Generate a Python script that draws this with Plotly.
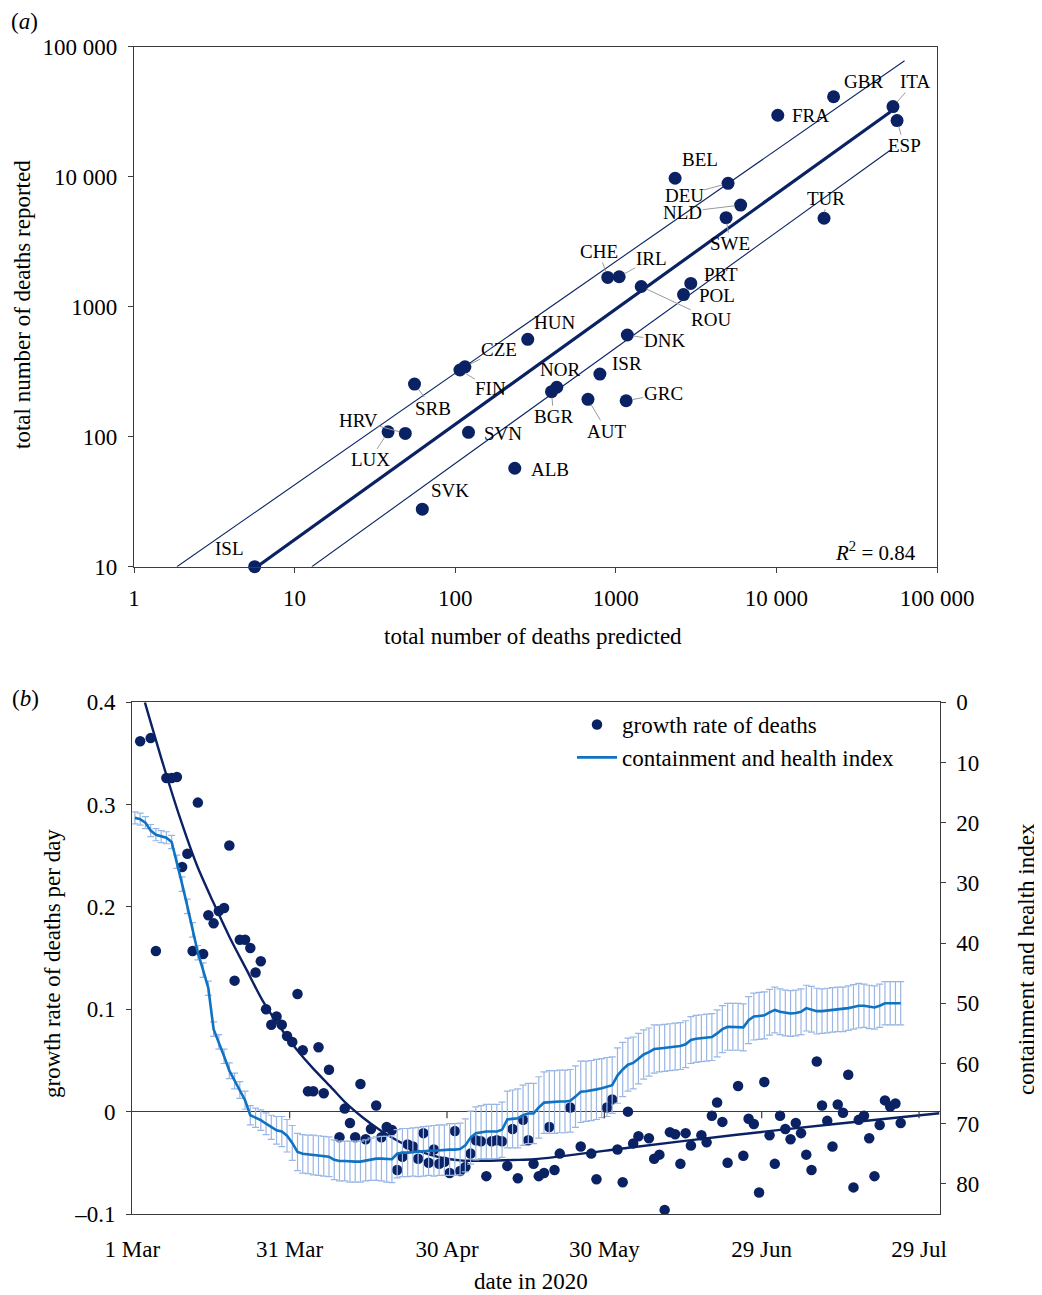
import math
import plotly.graph_objects as go
import pandas as pd

# ---------------- Panel (a) data ----------------
countries = ["GBR", "ITA", "ESP", "FRA", "BEL", "DEU", "NLD", "SWE", "TUR", "CHE",
             "IRL", "ROU", "PRT", "POL", "HUN", "DNK", "CZE", "FIN", "NOR", "BGR",
             "ISR", "SRB", "AUT", "GRC", "HRV", "LUX", "SVN", "ALB", "SVK", "ISL"]
predicted = [22700, 53200, 56400, 10200, 2340, 5000, 5990, 4860, 19800, 891,
             1050, 1440, 2930, 2640, 283, 1180, 115, 107, 429, 398,
             796, 55.8, 671, 1160, 48.9, 38.2, 121, 235, 62.4, 5.64]
reported = [41200, 34600, 27000, 29700, 9730, 8890, 6050, 4840, 4790, 1680,
            1700, 1430, 1510, 1240, 561, 606, 345, 326, 240, 222,
            303, 254, 194, 189, 106, 109, 108, 57.2, 27.7, 10]

fit_x = [5.83, 51400]
fit_y = [10, 31600]
upper_x = [1.85, 62800]
upper_y = [10, 78000]
lower_x = [12.8, 51400]
lower_y = [10, 16030]

a_xticks = [1, 10, 100, 1000, 10000, 100000]
a_xtext = ["1", "10", "100", "1000", "10 000", "100 000"]
a_yticks = [10, 100, 1000, 10000, 100000]
a_ytext = ["10", "100", "1000", "10 000", "100 000"]

# ---------------- Panel (b) data ----------------
growth_day = [1, 3, 4, 6, 7, 8, 9, 10, 11, 12, 13, 14, 15, 16, 17, 18, 19, 20, 21, 22,
              23, 24, 25, 26, 27, 28, 29, 30, 31, 32, 33, 34, 35, 36, 37, 39, 40, 41, 42, 43,
              44, 45, 46, 47, 48, 49, 50, 51, 52, 53, 54, 55, 56, 57, 58, 59, 60, 61, 62, 63,
              64, 65, 66, 67, 68, 69, 70, 71, 72, 73, 74, 75, 76, 77, 78, 79, 80, 81, 83, 85,
              87, 88, 90, 91, 92, 93, 94, 95, 96, 98, 99, 100, 101, 102, 103, 104, 105, 106, 108, 109,
              110, 111, 112, 113, 115, 116, 117, 118, 119, 120, 121, 122, 123, 124, 125, 126, 127, 128, 129, 130,
              131, 132, 133, 134, 135, 136, 137, 138, 139, 140, 141, 142, 143, 144, 145, 146]
growth_rate = [0.362, 0.365, 0.157, 0.326, 0.326, 0.327, 0.239, 0.252, 0.157, 0.302,
               0.154, 0.192, 0.184, 0.196, 0.199, 0.260, 0.128, 0.168, 0.168, 0.160,
               0.136, 0.147, 0.100, 0.085, 0.093, 0.085, 0.074, 0.068, 0.115, 0.060,
               0.020, 0.020, 0.063, 0.018, 0.041, -0.025, 0.003, -0.011, -0.025, 0.027,
               -0.027, -0.017, 0.006, -0.025, -0.015, -0.018, -0.057, -0.044, -0.032, -0.034,
               -0.046, -0.021, -0.050, -0.037, -0.051, -0.049, -0.060, -0.019, -0.058, -0.054,
               -0.041, -0.028, -0.029, -0.063, -0.029, -0.028, -0.029, -0.053, -0.017, -0.065,
               -0.008, -0.028, -0.051, -0.063, -0.060, -0.015, -0.057, -0.041, 0.004, -0.034,
               -0.041, -0.066, 0.004, 0.012, -0.037, -0.069, 0.000, -0.031, -0.024, -0.026,
               -0.046, -0.042, -0.096, -0.020, -0.022, -0.051, -0.021, -0.033, -0.023, -0.030,
               -0.004, 0.009, -0.010, -0.050, 0.025, -0.043, -0.007, -0.012, -0.079, 0.029,
               -0.023, -0.051, -0.004, -0.017, -0.027, -0.011, -0.021, -0.042, -0.057, 0.049,
               0.006, -0.009, -0.034, 0.007, -0.001, 0.036, -0.074, -0.008, -0.004, -0.026,
               -0.063, -0.013, 0.011, 0.005, 0.008, -0.011]

curve_day = [1.9, 5.4, 8.6, 11.8, 14.9, 18.1, 21.3, 24.4, 27.6, 30.8, 34.0, 37.2, 40.3, 43.5,
             46.7, 49.9, 53.0, 56.2, 59.4, 62.5, 65.7, 68.9, 72.1, 76.2, 94.5, 114.3, 133.5, 153.4]
curve_rate = [0.400, 0.339, 0.287, 0.241, 0.205, 0.170, 0.1385, 0.108, 0.083, 0.061, 0.042, 0.025,
              0.008, -0.006, -0.018, -0.028, -0.036, -0.042, -0.046, -0.0478, -0.048, -0.0477,
              -0.0472, -0.0465, -0.035, -0.0228, -0.012, -0.0016]

cont_day = list(range(0, 147))
cont_index = [19.2, 19.4, 20.0, 21.3, 22.0, 22.3, 22.5, 23.2, 26.5, 30.2,
              33.9, 37.8, 41.6, 44.5, 47.5, 54.3, 56.4, 58.8, 61.2, 62.9,
              64.4, 66.1, 68.6, 69.0, 69.4, 70.0, 70.6, 71.1, 71.3, 72.0,
              73.2, 74.7, 75.0, 75.1, 75.2, 75.3, 75.4, 75.5, 76.0, 76.2,
              76.2, 76.3, 76.3, 76.3, 76.1, 75.9, 75.8, 75.8, 75.9, 75.9,
              75.0, 74.8, 74.8, 74.7, 74.7, 74.6, 74.5, 74.5, 74.4, 74.4,
              74.3, 74.3, 74.2, 73.6, 72.3, 71.6, 71.4, 71.3, 71.3, 71.3,
              71.0, 69.3, 69.2, 69.1, 68.6, 68.3, 68.3, 67.3, 66.5, 66.4,
              66.4, 66.3, 66.3, 66.2, 65.5, 64.7, 64.6, 64.5, 64.3, 64.1,
              63.9, 63.6, 62.0, 61.0, 60.2, 59.9, 59.2, 58.5, 58.1, 57.6,
              57.5, 57.4, 57.3, 57.2, 57.1, 56.8, 56.1, 55.9, 55.8, 55.7,
              55.6, 55.0, 54.3, 53.9, 53.9, 53.9, 54.0, 52.8, 52.2, 52.1,
              52.0, 51.5, 51.1, 51.4, 51.6, 51.7, 51.6, 51.4, 50.8, 51.0,
              51.3, 51.3, 51.2, 51.1, 51.0, 51.0, 50.8, 50.6, 50.4, 50.4,
              50.6, 50.7, 50.4, 50.0, 50.0, 50.0, 50.0]
cont_err = [1.0, 1.0, 1.0, 1.0, 1.0, 1.0, 1.0, 1.1,
            1.1, 1.2, 1.2, 1.2, 1.2, 1.2, 1.2, 1.2, 1.2, 1.2, 1.3, 1.3, 1.4,
            1.5, 1.6, 1.6, 1.7, 1.8, 2.0,
            2.3, 2.5, 2.7, 2.9,
            3.1, 3.2, 3.2, 3.3, 3.3, 3.3, 3.3, 3.3, 3.3, 3.3, 3.4, 3.4, 3.4, 3.4, 3.5,
            3.6, 3.7, 3.8, 3.9, 4.0, 4.0, 4.0, 4.0, 4.1, 4.1, 4.1, 4.2, 4.2, 4.2, 4.3,
            4.3, 4.3, 4.4, 4.4, 4.4, 4.4, 4.5, 4.5, 4.5, 4.6,
            4.7, 4.8, 4.9, 5.0, 5.0, 5.0, 5.1, 5.1, 5.2, 5.2, 5.2, 5.2, 5.2, 5.1, 5.1, 5.0, 5.0, 5.0, 4.9, 4.9,
            4.7, 4.6, 4.5, 4.4, 4.3, 4.2, 4.1, 4.0, 4.0, 3.9,
            3.9, 3.9, 3.9, 3.9, 3.9, 3.9, 3.9, 3.9, 3.9, 3.9,
            3.9, 3.9, 3.9, 3.9, 3.9, 3.9, 3.9, 3.9, 3.9, 3.9,
            3.8, 3.8, 3.8, 3.8, 3.8, 3.8, 3.8, 3.8, 3.8, 3.8,
            3.7, 3.7, 3.7, 3.7, 3.7, 3.7, 3.7, 3.7, 3.6, 3.6,
            3.6, 3.6, 3.6, 3.6, 3.6, 3.6]

b_tick_dates = ["2020-03-01", "2020-03-31", "2020-04-30", "2020-05-30", "2020-06-29", "2020-07-29"]
b_tick_text = ["1 Mar", "31 Mar", "30 Apr", "30 May", "29 Jun", "29 Jul"]
b_left_ticks = [-0.1, 0, 0.1, 0.2, 0.3, 0.4]
b_left_text = ["\u20130.1", "0", "0.1", "0.2", "0.3", "0.4"]
b_right_ticks = [0, 10, 20, 30, 40, 50, 60, 70, 80]

# ---------------- styling ----------------
FONT = "Liberation Serif, Times New Roman, serif"
NAVY = "#0a2263"
BLUE = "#0f72c2"
ERRBLUE = "#9ab6e4"
AXIS = "#3c3c3c"
OFF = 8                      # page body margin
W, H = 1042 - OFF, 1295 - OFF


def fx(px):                  # page pixel x -> paper fraction
    return (px - OFF) / W


def fy(py):                  # page pixel y -> paper fraction
    return 1 - (py - OFF) / H


base = pd.Timestamp("2020-03-01")
half = pd.Timedelta(hours=12)


def to_date(d):
    return base + pd.Timedelta(days=d) + half


fig = go.Figure()

# Panel (a)
fig.add_trace(go.Scatter(x=upper_x, y=upper_y, mode="lines", line=dict(color=NAVY, width=1.1),
                         xaxis="x", yaxis="y", showlegend=False, hoverinfo="skip"))
fig.add_trace(go.Scatter(x=lower_x, y=lower_y, mode="lines", line=dict(color=NAVY, width=1.1),
                         xaxis="x", yaxis="y", showlegend=False, hoverinfo="skip"))
fig.add_trace(go.Scatter(x=fit_x, y=fit_y, mode="lines", line=dict(color=NAVY, width=3.2),
                         xaxis="x", yaxis="y", showlegend=False, hoverinfo="skip"))
fig.add_trace(go.Scatter(x=predicted, y=reported, mode="markers", text=countries,
                         marker=dict(color=NAVY, size=13), xaxis="x", yaxis="y",
                         showlegend=False, cliponaxis=False))

# Panel (b)
fig.add_trace(go.Scatter(x=[to_date(d) for d in growth_day], y=growth_rate, mode="markers",
                         marker=dict(color=NAVY, size=10.5), name="growth rate of deaths",
                         xaxis="x2", yaxis="y2", legendrank=1))
fig.add_trace(go.Scatter(x=[to_date(d) for d in curve_day], y=curve_rate, mode="lines",
                         line=dict(color=NAVY, width=2.4, shape="spline", smoothing=0.8),
                         xaxis="x2", yaxis="y2", showlegend=False, hoverinfo="skip"))
fig.add_trace(go.Scatter(x=[to_date(d) for d in cont_day], y=cont_index, mode="lines",
                         line=dict(color=BLUE, width=2.6),
                         error_y=dict(type="data", array=cont_err, color=ERRBLUE, thickness=1.2, width=3.5),
                         name="containment and health index", xaxis="x2", yaxis="y3", legendrank=2))

# Label offsets for country annotations: (dx, dy, leader line)
label_pos = {
    "GBR": (30, -15, False), "ITA": (22, -25, True), "ESP": (7, 25, True), "FRA": (33, 0, False),
    "BEL": (25, -19, False), "DEU": (-44, 12, True), "NLD": (-58, 7, True), "SWE": (4, 26, True),
    "TUR": (2, -20, True), "CHE": (-9, -26, True), "IRL": (32, -18, True), "ROU": (70, 33, True),
    "PRT": (30, -9, False), "POL": (33, 1, False), "HUN": (27, -17, False), "DNK": (37, 6, True),
    "CZE": (34, -17, True), "FIN": (31, 19, True), "NOR": (3, -18, False), "BGR": (2, 25, True),
    "ISR": (27, -11, False), "SRB": (18, 24, True), "AUT": (19, 32, True), "GRC": (37, -7, True),
    "HRV": (-47, -13, True), "LUX": (-18, 28, True), "SVN": (34, 1, False), "ALB": (35, 1, False),
    "SVK": (28, -19, False), "ISL": (-25, -18, False),
}

annotations = []
for c, px_, py_ in zip(countries, predicted, reported):
    dx, dy, lead = label_pos[c]
    if lead:
        annotations.append(dict(
            x=math.log10(px_), y=math.log10(py_), xref="x", yref="y",
            text=c, showarrow=True, ax=dx, ay=dy, axref="pixel", ayref="pixel",
            arrowhead=0, arrowwidth=1, standoff=6, arrowcolor="#9a9a9a",
            font=dict(family=FONT, size=19, color="black"), borderpad=0))
    else:
        annotations.append(dict(
            x=math.log10(px_), y=math.log10(py_), xref="x", yref="y",
            text=c, showarrow=False, xshift=dx, yshift=-dy,
            font=dict(family=FONT, size=19, color="black"), borderpad=0))

text_font = dict(family=FONT, size=23, color="black")
annotations += [
    dict(x=fx(10), y=fy(8), xref="paper", yref="paper", xanchor="left", yanchor="top",
         text="(<i>a</i>)", showarrow=False, font=text_font, borderpad=0),
    dict(x=fx(10), y=fy(698), xref="paper", yref="paper", xanchor="left", yanchor="middle",
         text="(<i>b</i>)", showarrow=False, font=text_font),
    dict(x=fx(533), y=fy(637), xref="paper", yref="paper", xanchor="center", yanchor="middle",
         text="total number of deaths predicted", showarrow=False, font=text_font),
    dict(x=fx(22), y=fy(305), xref="paper", yref="paper", xanchor="center", yanchor="middle",
         text="total number of deaths reported", showarrow=False, font=text_font, textangle=-90),
    dict(x=fx(918), y=fy(551), xref="paper", yref="paper", xanchor="right", yanchor="middle",
         text="<i>R</i><sup>2</sup> = 0.84", showarrow=False, font=dict(family=FONT, size=21, color="black")),
    dict(x=fx(52), y=fy(964), xref="paper", yref="paper", xanchor="center", yanchor="middle",
         text="growth rate of deaths per day", showarrow=False, font=text_font, textangle=-90),
    dict(x=fx(1026), y=fy(959), xref="paper", yref="paper", xanchor="center", yanchor="middle",
         text="containment and health index", showarrow=False, font=text_font, textangle=-90),
    dict(x=fx(531), y=0, xref="paper", yref="paper", xanchor="center", yanchor="bottom",
         text="date in 2020", showarrow=False, font=text_font, borderpad=0),
]

# small tick marks on the zero line of panel (b)
shapes = []
for d in b_tick_dates[1:]:
    shapes.append(dict(type="line", xref="x2", yref="y2", x0=d, x1=d, y0=0, y1=-0.0065,
                       line=dict(color=AXIS, width=1.2)))

axis_common = dict(showgrid=False, showline=True, linecolor=AXIS, linewidth=1.2,
                   ticklen=5, tickcolor=AXIS, tickwidth=1.2, automargin=False,
                   tickfont=dict(family=FONT, size=23, color="black"))

fig.update_layout(
    width=W, height=H,
    margin=dict(l=0, r=0, t=0, b=0),
    paper_bgcolor="white", plot_bgcolor="white",
    font=dict(family=FONT, color="black"),
    xaxis=dict(**axis_common, ticks="outside", zeroline=False, type="log", range=[0, 5],
               domain=[fx(134), fx(937)], anchor="y",
               tickvals=a_xticks, ticktext=a_xtext, mirror=True, ticklabelstandoff=6),
    yaxis=dict(**axis_common, ticks="outside", zeroline=False, type="log", range=[1, 5],
               domain=[fy(566.7), fy(46.7)], anchor="x",
               tickvals=a_yticks, ticktext=a_ytext, mirror=True, ticklabelstandoff=6),
    xaxis2=dict(**axis_common, ticks="", zeroline=False,
                type="date", range=["2020-03-01", "2020-08-01T21:36:00"],
                domain=[fx(132.3), fx(939.5)], anchor="y2", tickvals=b_tick_dates, ticktext=b_tick_text,
                mirror=True, ticklabelstandoff=14),
    yaxis2=dict(**axis_common, ticks="outside", range=[-0.1, 0.4],
                domain=[fy(1214), fy(702.3)], anchor="x2",
                tickvals=b_left_ticks, ticktext=b_left_text, zeroline=True, zerolinecolor=AXIS,
                zerolinewidth=1.2, ticklabelstandoff=6),
    yaxis3=dict(**axis_common, ticks="outside", zeroline=False, range=[85, 0], overlaying="y2",
                side="right", anchor="x2", tickvals=b_right_ticks, ticklabelstandoff=6),
    legend=dict(x=fx(572), y=fy(703), xanchor="left", yanchor="top", bgcolor="rgba(0,0,0,0)",
                font=dict(family=FONT, size=23, color="black"), tracegroupgap=0, itemwidth=40),
    annotations=annotations,
    shapes=shapes,
)

fig.write_html("out.html")
